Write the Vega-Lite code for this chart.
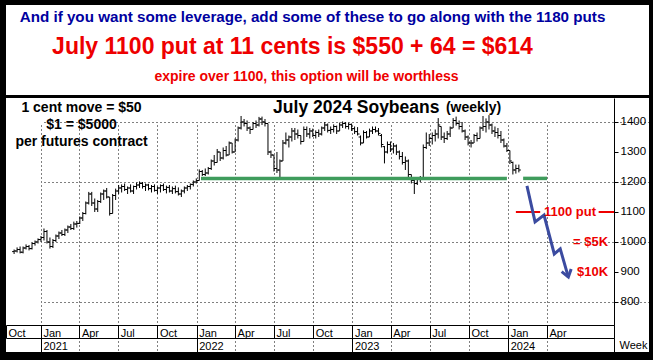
{
  "$schema": "https://vega.github.io/schema/vega-lite/v6.json",
  "background": "black",
  "padding": {"left": 5, "right": 5, "top": 5, "bottom": 8},
  "spacing": 3,
  "config": {
    "view": {"fill": "white", "stroke": null},
    "font": "Liberation Sans",
    "axis": {"labelFont": "Liberation Sans", "titleFont": "Liberation Sans", "labelColor": "black", "titleColor": "black", "domainColor": "black", "tickColor": "black"}
  },
  "datasets": {
    "header": [
      {"line": 1, "text": "And if you want some leverage, add some of these to go along with the 1180 puts"},
      {"line": 2, "text": "July 1100 put at 11 cents is $550 + 64 = $614"},
      {"line": 3, "text": "expire over 1100, this option will be worthless"}
    ],
    "bars": [
      {"d":"2020-10-30","o":968,"h":975,"l":960,"c":970},
      {"d":"2020-11-06","o":970,"h":982,"l":965,"c":975},
      {"d":"2020-11-13","o":975,"h":985,"l":962,"c":966},
      {"d":"2020-11-20","o":966,"h":985,"l":962,"c":980},
      {"d":"2020-11-27","o":980,"h":992,"l":975,"c":985},
      {"d":"2020-12-04","o":985,"h":990,"l":972,"c":978},
      {"d":"2020-12-11","o":978,"h":1000,"l":975,"c":995},
      {"d":"2020-12-18","o":995,"h":1005,"l":988,"c":1000},
      {"d":"2020-12-25","o":1000,"h":1012,"l":995,"c":1008},
      {"d":"2021-01-01","o":1008,"h":1020,"l":1000,"c":1015},
      {"d":"2021-01-08","o":1015,"h":1045,"l":1005,"c":1035},
      {"d":"2021-01-15","o":1035,"h":1040,"l":995,"c":1000},
      {"d":"2021-01-22","o":1000,"h":1015,"l":978,"c":985},
      {"d":"2021-01-29","o":985,"h":1010,"l":980,"c":1005},
      {"d":"2021-02-05","o":1005,"h":1025,"l":1000,"c":1020},
      {"d":"2021-02-12","o":1020,"h":1035,"l":1010,"c":1030},
      {"d":"2021-02-19","o":1030,"h":1040,"l":1020,"c":1025},
      {"d":"2021-02-26","o":1025,"h":1045,"l":1020,"c":1040},
      {"d":"2021-03-05","o":1040,"h":1055,"l":1030,"c":1050},
      {"d":"2021-03-12","o":1050,"h":1060,"l":1040,"c":1045},
      {"d":"2021-03-19","o":1045,"h":1068,"l":1040,"c":1060},
      {"d":"2021-03-26","o":1060,"h":1070,"l":1048,"c":1062},
      {"d":"2021-04-02","o":1062,"h":1085,"l":1060,"c":1080},
      {"d":"2021-04-09","o":1080,"h":1100,"l":1070,"c":1095},
      {"d":"2021-04-16","o":1095,"h":1135,"l":1092,"c":1130},
      {"d":"2021-04-23","o":1130,"h":1167,"l":1125,"c":1160},
      {"d":"2021-04-30","o":1160,"h":1167,"l":1120,"c":1130},
      {"d":"2021-05-07","o":1130,"h":1145,"l":1100,"c":1110},
      {"d":"2021-05-14","o":1110,"h":1140,"l":1100,"c":1135},
      {"d":"2021-05-21","o":1135,"h":1165,"l":1130,"c":1160},
      {"d":"2021-05-28","o":1160,"h":1175,"l":1140,"c":1170},
      {"d":"2021-06-04","o":1170,"h":1180,"l":1145,"c":1150},
      {"d":"2021-06-11","o":1150,"h":1150,"l":1088,"c":1095},
      {"d":"2021-06-18","o":1095,"h":1160,"l":1095,"c":1155},
      {"d":"2021-06-25","o":1155,"h":1178,"l":1140,"c":1170},
      {"d":"2021-07-02","o":1170,"h":1190,"l":1160,"c":1180},
      {"d":"2021-07-09","o":1180,"h":1192,"l":1165,"c":1185},
      {"d":"2021-07-16","o":1185,"h":1195,"l":1170,"c":1175},
      {"d":"2021-07-23","o":1175,"h":1185,"l":1160,"c":1180},
      {"d":"2021-07-30","o":1180,"h":1192,"l":1165,"c":1170},
      {"d":"2021-08-06","o":1170,"h":1188,"l":1160,"c":1185},
      {"d":"2021-08-13","o":1185,"h":1198,"l":1175,"c":1190},
      {"d":"2021-08-20","o":1190,"h":1202,"l":1180,"c":1195},
      {"d":"2021-08-27","o":1195,"h":1200,"l":1178,"c":1185},
      {"d":"2021-09-03","o":1185,"h":1195,"l":1170,"c":1190},
      {"d":"2021-09-10","o":1190,"h":1194,"l":1172,"c":1178},
      {"d":"2021-09-17","o":1178,"h":1190,"l":1165,"c":1185},
      {"d":"2021-09-24","o":1185,"h":1192,"l":1168,"c":1172},
      {"d":"2021-10-01","o":1172,"h":1185,"l":1160,"c":1180},
      {"d":"2021-10-08","o":1180,"h":1192,"l":1165,"c":1188},
      {"d":"2021-10-15","o":1188,"h":1195,"l":1170,"c":1175},
      {"d":"2021-10-22","o":1175,"h":1188,"l":1162,"c":1182},
      {"d":"2021-10-29","o":1182,"h":1190,"l":1165,"c":1170},
      {"d":"2021-11-05","o":1170,"h":1185,"l":1160,"c":1178},
      {"d":"2021-11-12","o":1178,"h":1188,"l":1162,"c":1168},
      {"d":"2021-11-19","o":1168,"h":1182,"l":1155,"c":1160},
      {"d":"2021-11-26","o":1160,"h":1175,"l":1150,"c":1170},
      {"d":"2021-12-03","o":1170,"h":1185,"l":1162,"c":1180},
      {"d":"2021-12-10","o":1180,"h":1190,"l":1170,"c":1185},
      {"d":"2021-12-17","o":1185,"h":1195,"l":1175,"c":1192},
      {"d":"2021-12-24","o":1192,"h":1205,"l":1185,"c":1200},
      {"d":"2021-12-31","o":1200,"h":1212,"l":1195,"c":1205},
      {"d":"2022-01-07","o":1205,"h":1242,"l":1205,"c":1235},
      {"d":"2022-01-14","o":1235,"h":1240,"l":1220,"c":1225},
      {"d":"2022-01-21","o":1225,"h":1245,"l":1220,"c":1230},
      {"d":"2022-01-28","o":1230,"h":1250,"l":1225,"c":1245},
      {"d":"2022-02-04","o":1245,"h":1275,"l":1240,"c":1270},
      {"d":"2022-02-11","o":1270,"h":1290,"l":1255,"c":1265},
      {"d":"2022-02-18","o":1265,"h":1310,"l":1265,"c":1300},
      {"d":"2022-02-25","o":1300,"h":1300,"l":1270,"c":1280},
      {"d":"2022-03-04","o":1280,"h":1315,"l":1275,"c":1305},
      {"d":"2022-03-11","o":1305,"h":1320,"l":1285,"c":1290},
      {"d":"2022-03-18","o":1290,"h":1335,"l":1290,"c":1330},
      {"d":"2022-03-25","o":1330,"h":1330,"l":1295,"c":1300},
      {"d":"2022-04-01","o":1300,"h":1345,"l":1300,"c":1340},
      {"d":"2022-04-08","o":1340,"h":1385,"l":1335,"c":1380},
      {"d":"2022-04-15","o":1380,"h":1420,"l":1375,"c":1400},
      {"d":"2022-04-22","o":1400,"h":1410,"l":1385,"c":1395},
      {"d":"2022-04-29","o":1395,"h":1405,"l":1370,"c":1380},
      {"d":"2022-05-06","o":1380,"h":1385,"l":1360,"c":1375},
      {"d":"2022-05-13","o":1375,"h":1400,"l":1375,"c":1395},
      {"d":"2022-05-20","o":1395,"h":1405,"l":1380,"c":1390},
      {"d":"2022-05-27","o":1390,"h":1417,"l":1385,"c":1410},
      {"d":"2022-06-03","o":1410,"h":1418,"l":1390,"c":1400},
      {"d":"2022-06-10","o":1400,"h":1410,"l":1385,"c":1395},
      {"d":"2022-06-17","o":1395,"h":1395,"l":1290,"c":1300},
      {"d":"2022-06-24","o":1300,"h":1305,"l":1280,"c":1290},
      {"d":"2022-07-01","o":1290,"h":1290,"l":1235,"c":1245},
      {"d":"2022-07-08","o":1245,"h":1300,"l":1230,"c":1240},
      {"d":"2022-07-15","o":1240,"h":1275,"l":1215,"c":1270},
      {"d":"2022-07-22","o":1270,"h":1340,"l":1270,"c":1330},
      {"d":"2022-07-29","o":1330,"h":1365,"l":1325,"c":1340},
      {"d":"2022-08-05","o":1340,"h":1355,"l":1315,"c":1350},
      {"d":"2022-08-12","o":1350,"h":1380,"l":1335,"c":1370},
      {"d":"2022-08-19","o":1370,"h":1380,"l":1340,"c":1360},
      {"d":"2022-08-26","o":1360,"h":1375,"l":1345,"c":1355},
      {"d":"2022-09-02","o":1355,"h":1355,"l":1325,"c":1335},
      {"d":"2022-09-09","o":1335,"h":1385,"l":1335,"c":1375},
      {"d":"2022-09-16","o":1375,"h":1385,"l":1350,"c":1360},
      {"d":"2022-09-23","o":1360,"h":1380,"l":1345,"c":1370},
      {"d":"2022-09-30","o":1370,"h":1378,"l":1350,"c":1355},
      {"d":"2022-10-07","o":1355,"h":1372,"l":1345,"c":1365},
      {"d":"2022-10-14","o":1365,"h":1375,"l":1350,"c":1360},
      {"d":"2022-10-21","o":1360,"h":1385,"l":1355,"c":1380},
      {"d":"2022-10-28","o":1380,"h":1400,"l":1370,"c":1390},
      {"d":"2022-11-04","o":1390,"h":1395,"l":1365,"c":1372},
      {"d":"2022-11-11","o":1372,"h":1385,"l":1360,"c":1375},
      {"d":"2022-11-18","o":1375,"h":1392,"l":1365,"c":1385},
      {"d":"2022-11-25","o":1385,"h":1388,"l":1360,"c":1370},
      {"d":"2022-12-02","o":1370,"h":1398,"l":1370,"c":1390},
      {"d":"2022-12-09","o":1390,"h":1402,"l":1380,"c":1395},
      {"d":"2022-12-16","o":1395,"h":1400,"l":1378,"c":1385},
      {"d":"2022-12-23","o":1385,"h":1398,"l":1375,"c":1392},
      {"d":"2022-12-30","o":1392,"h":1395,"l":1370,"c":1378},
      {"d":"2023-01-06","o":1378,"h":1385,"l":1360,"c":1368},
      {"d":"2023-01-13","o":1368,"h":1383,"l":1355,"c":1360},
      {"d":"2023-01-20","o":1350,"h":1355,"l":1322,"c":1330},
      {"d":"2023-01-27","o":1330,"h":1372,"l":1330,"c":1365},
      {"d":"2023-02-03","o":1365,"h":1370,"l":1345,"c":1350},
      {"d":"2023-02-10","o":1350,"h":1378,"l":1350,"c":1370},
      {"d":"2023-02-17","o":1370,"h":1385,"l":1360,"c":1375},
      {"d":"2023-02-24","o":1375,"h":1385,"l":1365,"c":1370},
      {"d":"2023-03-03","o":1370,"h":1380,"l":1355,"c":1362},
      {"d":"2023-03-10","o":1355,"h":1360,"l":1315,"c":1325},
      {"d":"2023-03-17","o":1318,"h":1320,"l":1262,"c":1300},
      {"d":"2023-03-24","o":1300,"h":1335,"l":1295,"c":1325},
      {"d":"2023-03-31","o":1325,"h":1335,"l":1300,"c":1310},
      {"d":"2023-04-07","o":1310,"h":1330,"l":1295,"c":1320},
      {"d":"2023-04-14","o":1320,"h":1325,"l":1290,"c":1300},
      {"d":"2023-04-21","o":1300,"h":1305,"l":1275,"c":1285},
      {"d":"2023-04-28","o":1285,"h":1300,"l":1258,"c":1265},
      {"d":"2023-05-05","o":1265,"h":1285,"l":1240,"c":1270},
      {"d":"2023-05-12","o":1270,"h":1275,"l":1215,"c":1225},
      {"d":"2023-05-19","o":1225,"h":1225,"l":1195,"c":1205},
      {"d":"2023-05-26","o":1205,"h":1210,"l":1160,"c":1195},
      {"d":"2023-06-02","o":1195,"h":1215,"l":1190,"c":1210},
      {"d":"2023-06-09","o":1210,"h":1220,"l":1200,"c":1215},
      {"d":"2023-06-16","o":1215,"h":1325,"l":1210,"c":1315},
      {"d":"2023-06-23","o":1315,"h":1365,"l":1310,"c":1330},
      {"d":"2023-06-30","o":1330,"h":1360,"l":1320,"c":1345},
      {"d":"2023-07-07","o":1345,"h":1365,"l":1325,"c":1355},
      {"d":"2023-07-14","o":1355,"h":1375,"l":1335,"c":1360},
      {"d":"2023-07-21","o":1360,"h":1413,"l":1345,"c":1390},
      {"d":"2023-07-28","o":1385,"h":1385,"l":1340,"c":1350},
      {"d":"2023-08-04","o":1350,"h":1365,"l":1330,"c":1345},
      {"d":"2023-08-11","o":1345,"h":1370,"l":1340,"c":1360},
      {"d":"2023-08-18","o":1360,"h":1385,"l":1350,"c":1380},
      {"d":"2023-08-25","o":1380,"h":1413,"l":1380,"c":1405},
      {"d":"2023-09-01","o":1405,"h":1418,"l":1388,"c":1395},
      {"d":"2023-09-08","o":1395,"h":1405,"l":1375,"c":1385},
      {"d":"2023-09-15","o":1385,"h":1400,"l":1365,"c":1370},
      {"d":"2023-09-22","o":1370,"h":1375,"l":1340,"c":1350},
      {"d":"2023-09-29","o":1350,"h":1355,"l":1322,"c":1330},
      {"d":"2023-10-06","o":1330,"h":1340,"l":1315,"c":1330},
      {"d":"2023-10-13","o":1330,"h":1360,"l":1330,"c":1355},
      {"d":"2023-10-20","o":1355,"h":1365,"l":1335,"c":1345},
      {"d":"2023-10-27","o":1345,"h":1385,"l":1345,"c":1380},
      {"d":"2023-11-03","o":1380,"h":1420,"l":1370,"c":1385},
      {"d":"2023-11-10","o":1385,"h":1412,"l":1365,"c":1400},
      {"d":"2023-11-17","o":1400,"h":1423,"l":1375,"c":1390},
      {"d":"2023-11-24","o":1390,"h":1395,"l":1360,"c":1370},
      {"d":"2023-12-01","o":1370,"h":1385,"l":1350,"c":1365},
      {"d":"2023-12-08","o":1365,"h":1380,"l":1345,"c":1355},
      {"d":"2023-12-15","o":1355,"h":1370,"l":1330,"c":1340},
      {"d":"2023-12-22","o":1340,"h":1345,"l":1315,"c":1320},
      {"d":"2023-12-29","o":1320,"h":1330,"l":1300,"c":1305},
      {"d":"2024-01-05","o":1305,"h":1305,"l":1260,"c":1270},
      {"d":"2024-01-12","o":1265,"h":1268,"l":1225,"c":1240},
      {"d":"2024-01-19","o":1240,"h":1258,"l":1228,"c":1245},
      {"d":"2024-01-26","o":1245,"h":1258,"l":1232,"c":1240}
    ],
    "support": [
      {"d1": "2022-01-11", "d2": "2023-12-29", "v": 1212},
      {"d1": "2024-02-05", "d2": "2024-04-01", "v": 1212}
    ],
    "putline": [
      {"d1": "2024-01-19", "d2": "2024-03-16", "v": 1100},
      {"d1": "2024-07-31", "d2": "2024-09-05", "v": 1100}
    ],
    "projection": [
      {"d": "2024-02-14", "v": 1187},
      {"d": "2024-03-04", "v": 1067},
      {"d": "2024-03-25", "v": 1090},
      {"d": "2024-04-18", "v": 960},
      {"d": "2024-05-02", "v": 977},
      {"d": "2024-05-21", "v": 883}
    ],
    "arrowtip": [{"d": "2024-05-21", "v": 883}],
    "notes": [
      {"d": "2021-04-06", "v": 1447, "t": "1 cent move = $50"},
      {"d": "2021-04-06", "v": 1390, "t": "$1 = $5000"},
      {"d": "2021-04-06", "v": 1333, "t": "per futures contract"}
    ],
    "chartname": [{"d": "2022-06-29", "v": 1447, "t": "July 2024 Soybeans"}],
    "chartfreq": [{"d": "2023-08-08", "v": 1446, "t": "(weekly)"}],
    "putlabel": [{"d": "2024-05-25", "v": 1100, "t": "1100 put"}],
    "targets": [
      {"d": "2024-08-22", "v": 1000, "t": "= $5K"},
      {"d": "2024-08-22", "v": 900, "t": "$10K"}
    ]
  },
  "vconcat": [
    {
      "width": 643,
      "height": 90,
      "data": {"name": "header"},
      "layer": [
        {
          "transform": [{"filter": "datum.line == 1"}],
          "mark": {"type": "text", "fontWeight": "bold", "fontSize": 15.2, "color": "#0000a0", "dx": -15, "baseline": "middle"},
          "encoding": {
            "y": {"field": "line", "type": "ordinal", "scale": {"type": "point", "domain": [1, 2, 3], "range": [12, 72], "padding": 0}, "axis": null},
            "text": {"field": "text"}
          }
        },
        {
          "transform": [{"filter": "datum.line == 2"}],
          "mark": {"type": "text", "fontWeight": "bold", "fontSize": 23, "color": "#ee0000", "dx": -35, "baseline": "middle"},
          "encoding": {
            "y": {"field": "line", "type": "ordinal"},
            "text": {"field": "text"}
          }
        },
        {
          "transform": [{"filter": "datum.line == 3"}],
          "mark": {"type": "text", "fontWeight": "bold", "fontSize": 14, "color": "#ee0000", "dx": -21, "baseline": "middle"},
          "encoding": {
            "y": {"field": "line", "type": "ordinal"},
            "text": {"field": "text"}
          }
        }
      ]
    },
    {
      "width": 643,
      "height": 254,
      "resolve": {"axis": {"x": "independent"}},
      "layer": [
        {
          "data": {"name": "bars"},
          "mark": {"type": "rule", "color": "black", "strokeWidth": 1},
          "encoding": {
            "x": {
              "field": "d", "type": "temporal",
              "scale": {"domain": [{"year": 2020, "month": 10, "date": 11}, {"year": 2024, "month": 9, "date": 5}], "range": [0, 608]},
              "axis": {
                "orient": "bottom", "offset": -27,
                "values": [
                  {"year": 2020, "month": 10, "date": 11},
                  {"year": 2021, "month": 1, "date": 1}, {"year": 2021, "month": 4, "date": 1}, {"year": 2021, "month": 7, "date": 1}, {"year": 2021, "month": 10, "date": 1},
                  {"year": 2022, "month": 1, "date": 1}, {"year": 2022, "month": 4, "date": 1}, {"year": 2022, "month": 7, "date": 1}, {"year": 2022, "month": 10, "date": 1},
                  {"year": 2023, "month": 1, "date": 1}, {"year": 2023, "month": 4, "date": 1}, {"year": 2023, "month": 7, "date": 1}, {"year": 2023, "month": 10, "date": 1},
                  {"year": 2024, "month": 1, "date": 1}, {"year": 2024, "month": 4, "date": 1}, {"year": 2024, "month": 9, "date": 5}
                ],
                "format": "%b",
                "labelExpr": "datum.value > datetime(2024, 5, 1) ? '' : datum.label",
                "grid": true, "gridColor": "black", "gridDash": [1, 3],
                "gridOpacity": {"condition": {"test": "datum.value < datetime(2020, 11, 1)", "value": 0}, "value": 1},
                "tickSize": 13, "labelAlign": "left", "labelBaseline": "top", "labelPadding": -11, "labelOffset": 2,
                "labelFontSize": 11, "labelOverlap": false, "labelFlush": false, "title": null
              }
            },
            "y": {
              "field": "l", "type": "quantitative",
              "scale": {"domain": [723.33, 1480], "range": [227, 0], "zero": false, "nice": false},
              "axis": {
                "orient": "right", "offset": -35,
                "values": [800, 900, 1000, 1100, 1200, 1300, 1400],
                "format": "d",
                "grid": true, "gridColor": "black", "gridDash": [1, 3],
                "gridOpacity": {"condition": {"test": "datum.value % 200 == 0", "value": 1}, "value": 0},
                "tickSize": 4, "labelPadding": 2, "labelFontSize": 11.5, "labelBaseline": "middle", "title": null
              }
            },
            "y2": {"field": "h"}
          }
        },
        {
          "data": {"name": "bars"},
          "mark": {"type": "tick", "orient": "horizontal", "size": 2, "thickness": 1, "xOffset": -1, "color": "black", "opacity": 1},
          "encoding": {
            "x": {"field": "d", "type": "temporal", "axis": null},
            "y": {"field": "o", "type": "quantitative"}
          }
        },
        {
          "data": {"name": "bars"},
          "mark": {"type": "tick", "orient": "horizontal", "size": 2, "thickness": 1, "xOffset": 1, "color": "black", "opacity": 1},
          "encoding": {
            "x": {"field": "d", "type": "temporal", "axis": null},
            "y": {"field": "c", "type": "quantitative"}
          }
        },
        {
          "data": {"name": "support"},
          "mark": {"type": "rule", "color": "#3f9c5c", "strokeWidth": 3.5},
          "encoding": {
            "x": {
              "field": "d1", "type": "temporal",
              "axis": {
                "orient": "bottom", "offset": -14,
                "values": [
                  {"year": 2021, "month": 1, "date": 1}, {"year": 2022, "month": 1, "date": 1}, {"year": 2023, "month": 1, "date": 1}, {"year": 2024, "month": 1, "date": 1}, {"year": 2024, "month": 9, "date": 5}
                ],
                "format": "%Y",
                "labelExpr": "datum.value > datetime(2024, 5, 1) ? '' : datum.label",
                "grid": false,
                "tickSize": 14, "labelAlign": "left", "labelBaseline": "top", "labelPadding": -12, "labelOffset": 2,
                "labelFontSize": 11, "labelOverlap": false, "labelFlush": false,
                "title": "Week", "titleX": 613, "titleY": 7, "titleAlign": "left", "titleBaseline": "middle", "titleAngle": 0,
                "titleFontWeight": "normal", "titleFontSize": 11
              }
            },
            "x2": {"field": "d2"},
            "y": {"field": "v", "type": "quantitative"}
          }
        },
        {
          "data": {"name": "putline"},
          "mark": {"type": "rule", "color": "#ee0000", "strokeWidth": 2},
          "encoding": {
            "x": {"field": "d1", "type": "temporal", "axis": null},
            "x2": {"field": "d2"},
            "y": {"field": "v", "type": "quantitative"}
          }
        },
        {
          "data": {"name": "projection"},
          "mark": {"type": "line", "color": "#3b4ba0", "strokeWidth": 3, "strokeJoin": "miter"},
          "encoding": {
            "x": {"field": "d", "type": "temporal", "axis": null},
            "y": {"field": "v", "type": "quantitative"}
          }
        },
        {
          "data": {"name": "arrowtip"},
          "mark": {"type": "point", "shape": "M-0.7,-1L0,0L0.7,-1", "filled": false, "strokeWidth": 3, "size": 200, "angle": -16, "color": "#3b4ba0", "opacity": 1},
          "encoding": {
            "x": {"field": "d", "type": "temporal", "axis": null},
            "y": {"field": "v", "type": "quantitative"}
          }
        },
        {
          "data": {"name": "notes"},
          "mark": {"type": "text", "fontWeight": "bold", "fontSize": 14, "color": "black", "align": "center", "baseline": "middle"},
          "encoding": {
            "x": {"field": "d", "type": "temporal", "axis": null},
            "y": {"field": "v", "type": "quantitative"},
            "text": {"field": "t"}
          }
        },
        {
          "data": {"name": "chartname"},
          "mark": {"type": "text", "fontWeight": "bold", "fontSize": 17.5, "color": "black", "align": "left", "baseline": "middle"},
          "encoding": {
            "x": {"field": "d", "type": "temporal", "axis": null},
            "y": {"field": "v", "type": "quantitative"},
            "text": {"field": "t"}
          }
        },
        {
          "data": {"name": "chartfreq"},
          "mark": {"type": "text", "fontWeight": "bold", "fontSize": 14, "color": "black", "align": "left", "baseline": "middle"},
          "encoding": {
            "x": {"field": "d", "type": "temporal", "axis": null},
            "y": {"field": "v", "type": "quantitative"},
            "text": {"field": "t"}
          }
        },
        {
          "data": {"name": "putlabel"},
          "mark": {"type": "text", "fontWeight": "bold", "fontSize": 13, "color": "#ee0000", "align": "center", "baseline": "middle"},
          "encoding": {
            "x": {"field": "d", "type": "temporal", "axis": null},
            "y": {"field": "v", "type": "quantitative"},
            "text": {"field": "t"}
          }
        },
        {
          "data": {"name": "targets"},
          "mark": {"type": "text", "fontWeight": "bold", "fontSize": 13, "color": "#ee0000", "align": "right", "baseline": "middle"},
          "encoding": {
            "x": {"field": "d", "type": "temporal", "axis": null},
            "y": {"field": "v", "type": "quantitative"},
            "text": {"field": "t"}
          }
        }
      ]
    }
  ]
}
